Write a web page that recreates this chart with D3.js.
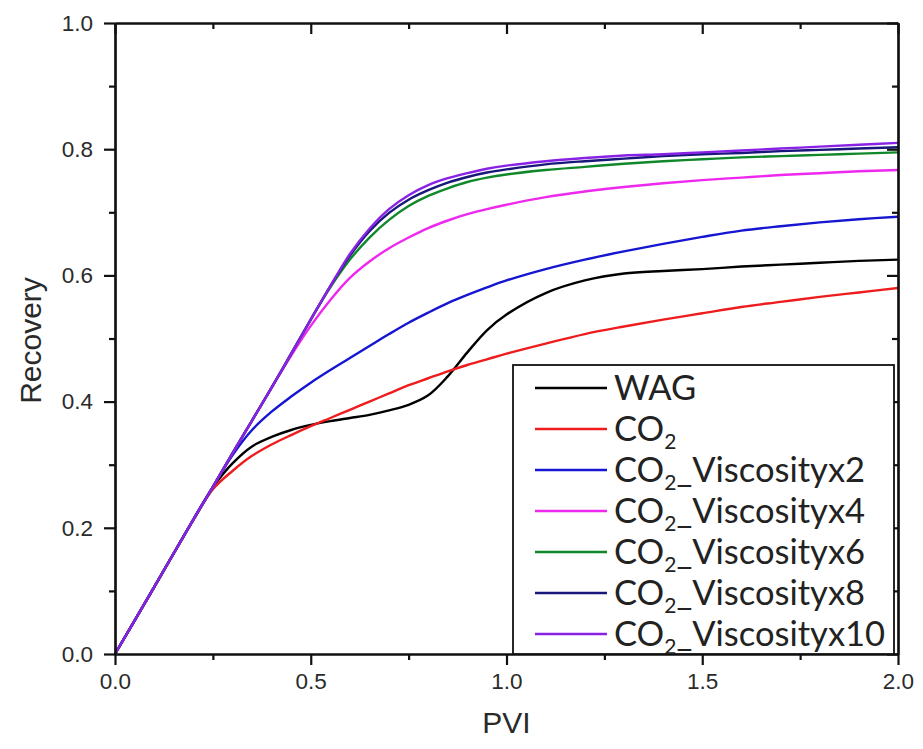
<!DOCTYPE html>
<html>
<head>
<meta charset="utf-8">
<script src="https://cdn.jsdelivr.net/npm/d3@7/dist/d3.min.js"></script>
<style>
  html, body { margin: 0; padding: 0; background: #fff; overflow: hidden; }
  svg { display: block; }
</style>
</head>
<body>
<svg id="chart" width="923" height="749"></svg>
<script>
// Pore volumes injected (shared sample grid)
const pvi = [0, 0.1, 0.2, 0.25, 0.3, 0.35, 0.4, 0.45, 0.5, 0.55, 0.6, 0.65, 0.7, 0.75, 0.8, 0.85, 0.9, 0.95, 1.0, 1.1, 1.2, 1.3, 1.4, 1.5, 1.6, 1.7, 1.8, 1.9, 2.0];

// Recovery factor per case
const wag = [0, 0.106, 0.213, 0.264, 0.302, 0.329, 0.344, 0.355, 0.363, 0.369, 0.374, 0.379, 0.386, 0.395, 0.41, 0.44, 0.478, 0.513, 0.538, 0.572, 0.592, 0.603, 0.607, 0.61, 0.614, 0.617, 0.62, 0.623, 0.625];
const co2 = [0, 0.106, 0.212, 0.261, 0.29, 0.314, 0.332, 0.347, 0.361, 0.374, 0.387, 0.4, 0.413, 0.426, 0.437, 0.448, 0.458, 0.467, 0.476, 0.492, 0.507, 0.519, 0.53, 0.54, 0.55, 0.558, 0.566, 0.573, 0.58];
const co2Visc2 = [0, 0.106, 0.213, 0.265, 0.315, 0.355, 0.384, 0.408, 0.43, 0.45, 0.469, 0.488, 0.507, 0.525, 0.541, 0.556, 0.569, 0.581, 0.592, 0.61, 0.625, 0.638, 0.65, 0.661, 0.671, 0.678, 0.684, 0.689, 0.693];
const co2Visc4 = [0, 0.106, 0.213, 0.265, 0.318, 0.37, 0.422, 0.473, 0.52, 0.561, 0.596, 0.622, 0.643, 0.66, 0.675, 0.687, 0.697, 0.705, 0.712, 0.724, 0.733, 0.74, 0.746, 0.751, 0.755, 0.759, 0.762, 0.765, 0.767];
const co2Visc6 = [0, 0.106, 0.213, 0.265, 0.318, 0.37, 0.422, 0.476, 0.53, 0.581, 0.625, 0.66, 0.688, 0.71, 0.726, 0.738, 0.748, 0.755, 0.76, 0.767, 0.772, 0.777, 0.781, 0.784, 0.787, 0.789, 0.791, 0.793, 0.795];
const co2Visc8 = [0, 0.106, 0.213, 0.265, 0.318, 0.37, 0.422, 0.476, 0.53, 0.583, 0.631, 0.67, 0.699, 0.72, 0.735, 0.747, 0.756, 0.763, 0.768, 0.776, 0.781, 0.785, 0.789, 0.792, 0.794, 0.797, 0.799, 0.801, 0.803];
const co2Visc10 = [0, 0.106, 0.213, 0.265, 0.318, 0.37, 0.422, 0.476, 0.53, 0.583, 0.634, 0.674, 0.705, 0.727, 0.743, 0.754, 0.762, 0.769, 0.774, 0.781, 0.786, 0.79, 0.792, 0.795, 0.798, 0.801, 0.804, 0.807, 0.81];

// Legend entries: [main text, subscript, suffix]
const seriesNames = [
  ["WAG", "", ""],
  ["CO", "2", ""],
  ["CO", "2", "_Viscosityx2"],
  ["CO", "2", "_Viscosityx4"],
  ["CO", "2", "_Viscosityx6"],
  ["CO", "2", "_Viscosityx8"],
  ["CO", "2", "_Viscosityx10"]
];
const seriesValues = [wag, co2, co2Visc2, co2Visc4, co2Visc6, co2Visc8, co2Visc10];
const seriesColors = ["#000000", "#ee1c1c", "#1515d2", "#ee28ee", "#10882a", "#18187a", "#8a22e6"];

const xMajor = [0, 0.5, 1.0, 1.5, 2.0];
const xMinor = [0.25, 0.75, 1.25, 1.75];
const yMajor = [0, 0.2, 0.4, 0.6, 0.8, 1.0];
const yMinor = [0.1, 0.3, 0.5, 0.7, 0.9];

const svg = d3.select("#chart");
const L = 115, R = 898, T = 23, B = 654;

const x = d3.scaleLinear().domain([0, 2]).range([L, R]);
const y = d3.scaleLinear().domain([0, 1]).range([B, T]);

const fmt = d3.format(".1f");
const labelFont = "'Liberation Sans', Arial, sans-serif";

// Curves
const line = d3.line()
  .x(d => x(d[0]))
  .y(d => y(d[1]))
  .curve(d3.curveCatmullRom.alpha(0.5));

const plot = svg.append("g");
seriesValues.forEach((vals, i) => {
  plot.append("path")
    .datum(pvi.map((p, k) => [p, vals[k]]))
    .attr("fill", "none")
    .attr("stroke", seriesColors[i])
    .attr("stroke-width", 2.4)
    .attr("stroke-linejoin", "round")
    .attr("d", line);
});

// Axes
function styleAxis(g) {
  g.select(".domain").attr("stroke", "#111").attr("stroke-width", 2.2);
  g.selectAll(".tick line").attr("stroke", "#111").attr("stroke-width", 2.2);
  g.selectAll(".tick text")
    .attr("fill", "#2a2a2a")
    .style("font-family", labelFont)
    .style("font-size", "22.5px");
}

// bottom
svg.append("g").attr("transform", `translate(0,${B})`)
  .call(d3.axisBottom(x).tickValues(xMajor).tickSize(11).tickPadding(8).tickSizeOuter(0).tickFormat(fmt))
  .call(styleAxis);
svg.append("g").attr("transform", `translate(0,${B})`)
  .call(d3.axisBottom(x).tickValues(xMinor).tickSize(6).tickSizeOuter(0).tickFormat(""))
  .call(styleAxis);
// top (ticks inward)
svg.append("g").attr("transform", `translate(0,${T})`)
  .call(d3.axisBottom(x).tickValues(xMajor).tickSize(11).tickSizeOuter(0).tickFormat(""))
  .call(styleAxis);
svg.append("g").attr("transform", `translate(0,${T})`)
  .call(d3.axisBottom(x).tickValues(xMinor).tickSize(6).tickSizeOuter(0).tickFormat(""))
  .call(styleAxis);
// left
svg.append("g").attr("transform", `translate(${L},0)`)
  .call(d3.axisLeft(y).tickValues(yMajor).tickSize(11).tickPadding(11).tickSizeOuter(0).tickFormat(fmt))
  .call(styleAxis);
svg.append("g").attr("transform", `translate(${L},0)`)
  .call(d3.axisLeft(y).tickValues(yMinor).tickSize(6).tickSizeOuter(0).tickFormat(""))
  .call(styleAxis);
// right (ticks inward)
svg.append("g").attr("transform", `translate(${R},0)`)
  .call(d3.axisLeft(y).tickValues(yMajor).tickSize(11).tickSizeOuter(0).tickFormat(""))
  .call(styleAxis);
svg.append("g").attr("transform", `translate(${R},0)`)
  .call(d3.axisLeft(y).tickValues(yMinor).tickSize(6).tickSizeOuter(0).tickFormat(""))
  .call(styleAxis);

// Axis titles
svg.append("text")
  .attr("x", (L + R) / 2).attr("y", 733)
  .attr("text-anchor", "middle")
  .attr("fill", "#2a2a2a")
  .style("font-family", labelFont).style("font-size", "30px")
  .text("PVI");
svg.append("text")
  .attr("transform", `translate(41,${(T + B) / 2 + 2}) rotate(-90)`)
  .attr("text-anchor", "middle")
  .attr("fill", "#2a2a2a")
  .style("font-family", labelFont).style("font-size", "30px")
  .text("Recovery");

// Legend
const legX = 513, legY = 365, legR = 894;
const legend = svg.append("g");
legend.append("rect")
  .attr("x", legX).attr("y", legY)
  .attr("width", legR - legX).attr("height", B - legY)
  .attr("fill", "#fff").attr("stroke", "#111").attr("stroke-width", 1.8);

const rowY0 = 388, rowStep = 41;
const legFont = "Lato, 'Open Sans', sans-serif";
seriesNames.forEach((nm, i) => {
  const cy = rowY0 + i * rowStep;
  legend.append("line")
    .attr("x1", 535).attr("x2", 607)
    .attr("y1", cy).attr("y2", cy)
    .attr("stroke", seriesColors[i]).attr("stroke-width", 2.4);
  const t = legend.append("text")
    .attr("x", 614).attr("y", cy + 12)
    .attr("fill", "#222")
    .style("font-family", legFont).style("font-size", "34.5px");
  t.append("tspan").text(nm[0]);
  if (nm[1]) {
    t.append("tspan").attr("dy", 8).style("font-size", "21px").text(nm[1]);
    if (nm[2]) t.append("tspan").attr("dy", -8).text(nm[2]);
  }
});
</script>
</body>
</html>
